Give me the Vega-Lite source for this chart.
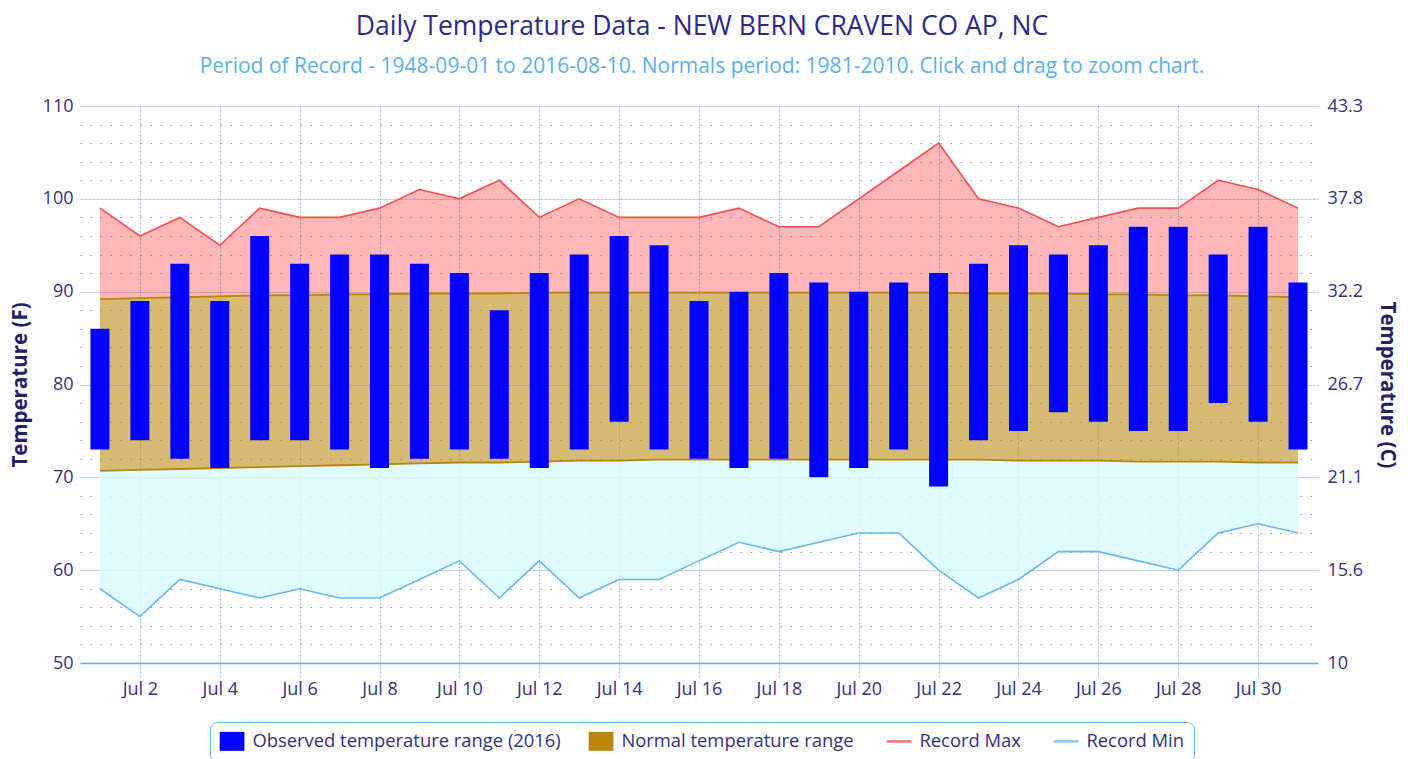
{
  "$schema": "https://vega.github.io/schema/vega-lite/v6.json",
  "width": 1238,
  "height": 557,
  "autosize": {"type": "none"},
  "padding": {"left": 80, "top": 106, "right": 90, "bottom": 96},
  "background": "white",
  "title": {
    "text": "Daily Temperature Data - NEW BERN CRAVEN CO AP, NC",
    "subtitle": "Period of Record - 1948-09-01 to 2016-08-10. Normals period: 1981-2010. Click and drag to zoom chart.",
    "anchor": "middle",
    "font": "Open Sans",
    "fontSize": 26.5,
    "fontWeight": "normal",
    "color": "#2B2B8A",
    "subtitleFont": "Open Sans",
    "subtitleFontSize": 21,
    "subtitleColor": "#5AB1EA",
    "subtitlePadding": 16,
    "offset": 20,
    "dx": 3
  },
  "data": {
    "values": [
      {"date": "2016-07-01", "oh": 86, "ol": 73, "nh": 89.2, "nl": 70.7, "rmax": 99, "rmin": 58},
      {"date": "2016-07-02", "oh": 89, "ol": 74, "nh": 89.3, "nl": 70.8, "rmax": 96, "rmin": 55},
      {"date": "2016-07-03", "oh": 93, "ol": 72, "nh": 89.4, "nl": 70.9, "rmax": 98, "rmin": 59},
      {"date": "2016-07-04", "oh": 89, "ol": 71, "nh": 89.5, "nl": 71.0, "rmax": 95, "rmin": 58},
      {"date": "2016-07-05", "oh": 96, "ol": 74, "nh": 89.6, "nl": 71.1, "rmax": 99, "rmin": 57},
      {"date": "2016-07-06", "oh": 93, "ol": 74, "nh": 89.6, "nl": 71.2, "rmax": 98, "rmin": 58},
      {"date": "2016-07-07", "oh": 94, "ol": 73, "nh": 89.7, "nl": 71.3, "rmax": 98, "rmin": 57},
      {"date": "2016-07-08", "oh": 94, "ol": 71, "nh": 89.7, "nl": 71.4, "rmax": 99, "rmin": 57},
      {"date": "2016-07-09", "oh": 93, "ol": 72, "nh": 89.8, "nl": 71.5, "rmax": 101, "rmin": 59},
      {"date": "2016-07-10", "oh": 92, "ol": 73, "nh": 89.8, "nl": 71.6, "rmax": 100, "rmin": 61},
      {"date": "2016-07-11", "oh": 88, "ol": 72, "nh": 89.8, "nl": 71.6, "rmax": 102, "rmin": 57},
      {"date": "2016-07-12", "oh": 92, "ol": 71, "nh": 89.9, "nl": 71.7, "rmax": 98, "rmin": 61},
      {"date": "2016-07-13", "oh": 94, "ol": 73, "nh": 89.9, "nl": 71.8, "rmax": 100, "rmin": 57},
      {"date": "2016-07-14", "oh": 96, "ol": 76, "nh": 89.9, "nl": 71.8, "rmax": 98, "rmin": 59},
      {"date": "2016-07-15", "oh": 95, "ol": 73, "nh": 89.9, "nl": 71.9, "rmax": 98, "rmin": 59},
      {"date": "2016-07-16", "oh": 89, "ol": 72, "nh": 89.9, "nl": 71.9, "rmax": 98, "rmin": 61},
      {"date": "2016-07-17", "oh": 90, "ol": 71, "nh": 89.9, "nl": 71.9, "rmax": 99, "rmin": 63},
      {"date": "2016-07-18", "oh": 92, "ol": 72, "nh": 89.9, "nl": 71.9, "rmax": 97, "rmin": 62},
      {"date": "2016-07-19", "oh": 91, "ol": 70, "nh": 89.9, "nl": 71.9, "rmax": 97, "rmin": 63},
      {"date": "2016-07-20", "oh": 90, "ol": 71, "nh": 89.9, "nl": 71.9, "rmax": 100, "rmin": 64},
      {"date": "2016-07-21", "oh": 91, "ol": 73, "nh": 89.9, "nl": 71.9, "rmax": 103, "rmin": 64},
      {"date": "2016-07-22", "oh": 92, "ol": 69, "nh": 89.9, "nl": 71.9, "rmax": 106, "rmin": 60},
      {"date": "2016-07-23", "oh": 93, "ol": 74, "nh": 89.8, "nl": 71.9, "rmax": 100, "rmin": 57},
      {"date": "2016-07-24", "oh": 95, "ol": 75, "nh": 89.8, "nl": 71.8, "rmax": 99, "rmin": 59},
      {"date": "2016-07-25", "oh": 94, "ol": 77, "nh": 89.8, "nl": 71.8, "rmax": 97, "rmin": 62},
      {"date": "2016-07-26", "oh": 95, "ol": 76, "nh": 89.7, "nl": 71.8, "rmax": 98, "rmin": 62},
      {"date": "2016-07-27", "oh": 97, "ol": 75, "nh": 89.7, "nl": 71.7, "rmax": 99, "rmin": 61},
      {"date": "2016-07-28", "oh": 97, "ol": 75, "nh": 89.6, "nl": 71.7, "rmax": 99, "rmin": 60},
      {"date": "2016-07-29", "oh": 94, "ol": 78, "nh": 89.6, "nl": 71.7, "rmax": 102, "rmin": 64},
      {"date": "2016-07-30", "oh": 97, "ol": 76, "nh": 89.5, "nl": 71.6, "rmax": 101, "rmin": 65},
      {"date": "2016-07-31", "oh": 91, "ol": 73, "nh": 89.4, "nl": 71.6, "rmax": 99, "rmin": 64}
    ]
  },
  "encoding": {
    "x": {
      "field": "date",
      "type": "temporal",
      "scale": {
        "type": "utc",
        "padding": 0,
        "nice": false,
        "domain": [
          {"year": 2016, "month": "June", "date": 30, "hours": 12, "utc": true},
          {"year": 2016, "month": "July", "date": 31, "hours": 12, "utc": true}
        ]
      },
      "axis": {
        "title": null,
        "values": [
          {"year": 2016, "month": "July", "date": 2, "utc": true},
          {"year": 2016, "month": "July", "date": 4, "utc": true},
          {"year": 2016, "month": "July", "date": 6, "utc": true},
          {"year": 2016, "month": "July", "date": 8, "utc": true},
          {"year": 2016, "month": "July", "date": 10, "utc": true},
          {"year": 2016, "month": "July", "date": 12, "utc": true},
          {"year": 2016, "month": "July", "date": 14, "utc": true},
          {"year": 2016, "month": "July", "date": 16, "utc": true},
          {"year": 2016, "month": "July", "date": 18, "utc": true},
          {"year": 2016, "month": "July", "date": 20, "utc": true},
          {"year": 2016, "month": "July", "date": 22, "utc": true},
          {"year": 2016, "month": "July", "date": 24, "utc": true},
          {"year": 2016, "month": "July", "date": 26, "utc": true},
          {"year": 2016, "month": "July", "date": 28, "utc": true},
          {"year": 2016, "month": "July", "date": 30, "utc": true}
        ],
        "format": "%b %-d",
        "labelFont": "Open Sans",
        "labelFontSize": 18,
        "labelColor": "#333380",
        "labelPadding": 2,
        "labelFlush": false,
        "labelOverlap": false,
        "tickSize": 15,
        "tickColor": "#8CC6EE",
        "tickDash": [2, 2],
        "grid": true,
        "gridColor": "#8FC3EC",
        "gridDash": [2, 2],
        "domainColor": "#5AAFE6",
        "domainWidth": 1.5
      }
    }
  },
  "layer": [
    {
      "mark": {"type": "area", "fill": "#D8FBFF", "fillOpacity": 0.8},
      "encoding": {
        "y": {
          "field": "rmin",
          "type": "quantitative",
          "scale": {"domain": [50, 110], "nice": false, "zero": false},
          "axis": {
            "orient": "left",
            "title": "Temperature (F)",
            "titleFont": "Open Sans",
            "titleFontSize": 20.5,
            "titleFontWeight": "bold",
            "titleColor": "#222266",
            "titlePadding": 12,
            "values": [50, 60, 70, 80, 90, 100, 110],
            "labelFont": "Open Sans",
            "labelFontSize": 18,
            "labelColor": "#333380",
            "labelPadding": 7,
            "ticks": false,
            "domain": false,
            "grid": true,
            "gridColor": "#A3CDEE",
            "gridDash": [3, 1]
          }
        },
        "y2": {"field": "nl"}
      }
    },
    {
      "mark": {"type": "area", "fill": "#FF0000", "fillOpacity": 0.28},
      "encoding": {
        "y": {"field": "nh", "type": "quantitative", "axis": null},
        "y2": {"field": "rmax"}
      }
    },
    {
      "mark": {"type": "area", "fillOpacity": 0.57},
      "encoding": {
        "y": {"field": "nl", "type": "quantitative", "axis": null},
        "y2": {"field": "nh"},
        "color": {"datum": "Normal temperature range"}
      }
    },
    {
      "mark": {"type": "line", "color": "#B8860B", "strokeWidth": 1.8},
      "encoding": {"y": {"field": "nh", "type": "quantitative", "axis": null}}
    },
    {
      "mark": {"type": "line", "color": "#B8860B", "strokeWidth": 1.8},
      "encoding": {"y": {"field": "nl", "type": "quantitative", "axis": null}}
    },
    {
      "mark": {"type": "bar", "size": 19},
      "encoding": {
        "y": {
          "field": "ol",
          "type": "quantitative",
          "axis": {
            "orient": "left",
            "title": null,
            "values": [52, 54, 56, 58, 62, 64, 66, 68, 72, 74, 76, 78, 82, 84, 86, 88, 92, 94, 96, 98, 102, 104, 106, 108],
            "labels": false,
            "ticks": false,
            "domain": false,
            "grid": true,
            "gridColor": "#9A9A9A",
            "gridDash": [1.5, 8.5]
          }
        },
        "y2": {"field": "oh"},
        "color": {
          "datum": "Observed temperature range (2016)",
          "scale": {
            "domain": ["Observed temperature range (2016)", "Normal temperature range", "Record Max", "Record Min"],
            "range": ["#0000FF", "#B8860B", "#FF4D4D", "#66B8EE"]
          },
          "legend": {
            "orient": "none",
            "legendX": 130,
            "legendY": 616,
            "direction": "horizontal",
            "title": null,
            "labelFont": "Open Sans",
            "labelFontSize": 18.4,
            "labelColor": "#333380",
            "labelLimit": 500,
            "labelOffset": 14,
            "columnPadding": 27,
            "padding": 10,
            "strokeColor": "#6CB8EA",
            "cornerRadius": 7,
            "symbolSize": 361,
            "encode": {
              "symbols": {
                "update": {
                  "shape": {"signal": "indexof(['Record Max','Record Min'], datum.value) >= 0 ? 'M-1,0H1.6' : 'M-1,-1H1.6V1H-1Z'"},
                  "fill": {"signal": "indexof(['Record Max','Record Min'], datum.value) >= 0 ? 'transparent' : scale('color', datum.value)"},
                  "stroke": {"signal": "scale('color', datum.value)"},
                  "strokeWidth": {"signal": "indexof(['Record Max','Record Min'], datum.value) >= 0 ? 2.5 : 0"},
                  "opacity": {"value": 1},
                  "fillOpacity": {"value": 1},
                  "strokeOpacity": {"value": 0.8},
                  "size": {"value": 361}
                }
              }
            }
          }
        }
      }
    },
    {
      "mark": {"type": "line", "strokeWidth": 1.6},
      "encoding": {
        "y": {"field": "rmax", "type": "quantitative", "axis": null},
        "color": {"datum": "Record Max"}
      }
    },
    {
      "mark": {"type": "line", "strokeWidth": 1.6},
      "encoding": {
        "y": {
          "field": "rmin",
          "type": "quantitative",
          "axis": {
            "orient": "right",
            "title": "Temperature (C)",
            "titleFont": "Open Sans",
            "titleFontSize": 20.5,
            "titleFontWeight": "bold",
            "titleColor": "#222266",
            "titlePadding": 14,
            "values": [50, 60, 70, 80, 90, 100, 110],
            "labelExpr": "format((datum.value - 32) * 5 / 9, '.1~f')",
            "labelFont": "Open Sans",
            "labelFontSize": 18,
            "labelColor": "#333380",
            "labelPadding": 9,
            "ticks": false,
            "domain": false,
            "grid": false
          }
        },
        "color": {"datum": "Record Min"}
      }
    }
  ],
  "resolve": {"axis": {"y": "independent"}},
  "config": {
    "view": {"stroke": null},
    "font": "Open Sans"
  }
}
